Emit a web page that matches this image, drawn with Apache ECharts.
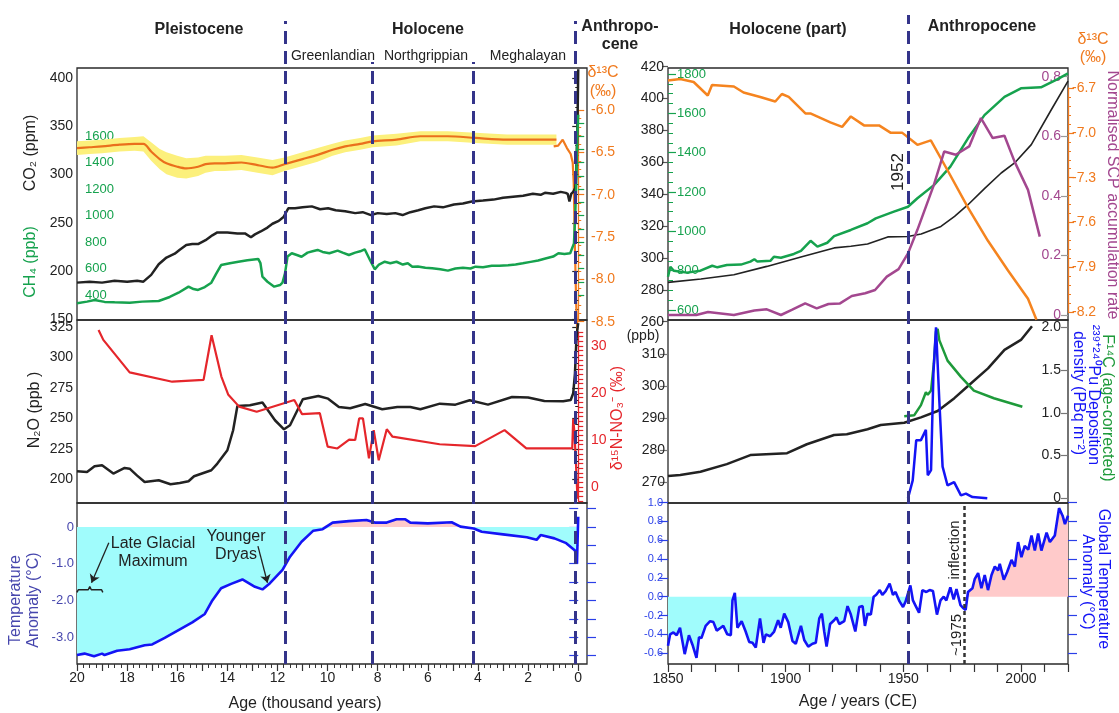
<!DOCTYPE html>
<html><head><meta charset="utf-8">
<script src="https://cdn.jsdelivr.net/npm/echarts@6/dist/echarts.min.js"></script>
<style>html,body{margin:0;padding:0;background:#fff}#c{width:1119px;height:713px}</style>
</head><body><div id="c"></div>
<script>
// ===================== DATA =====================
// Left column: age in thousand years before present
const co2LAge = [20,19.5,19.0,18.5,18.0, 17.6,17.35,17.04,16.74,16.43, 16.1,15.9,15.64,15.4,15.17, 14.87,14.6,14.4,14.0,13.6, 13.3,13.06,12.9,12.67,12.4, 12.2,11.95,11.76,11.57,11.3, 11.0,10.63,10.3,9.98,9.68, 9.3,8.9,8.6,8.27,8.0, 7.64,7.3,7.01,6.7,6.38, 6.1,5.75,5.4,4.96,4.6, 4.25,3.8,3.38,3.0,2.6, 2.2,1.81,1.5,1.33,1.0, 0.7,0.5,0.42,0.35,0.28, 0.2,0.12,0.08,0.05,0.02, 0.0];
const co2LVal = [188,189,188,190,189, 190,189,196,207,214, 218,222,227,228,228, 232,237,240,240,239, 239,235,238,241,245, 249,252,256,265,265, 266,267,264,265,263, 262,260,261,258,260, 259,260,258,261,263, 265,267,266,269,270, 272,273,274,276,277, 278,280,279,281,280, 282,281,280,272,280, 282,286,300,330,370, 409];

const ch4LAge = [20,19.6,19.3,18.9,18.5, 17.9,17.4,16.74,16.3,15.95, 15.55,15.35,15.17,14.9,14.64, 14.45,14.25,13.9,13.56,13.2, 12.77,12.68,12.6,12.4,12.13, 11.9,11.8,11.7,11.6,11.43, 11.2,11.04,10.8,10.6,10.4, 10.2,9.93,9.6,9.4,9.15, 8.9,8.7,8.52,8.3,8.12, 7.95,7.72,7.5,7.25,7.0, 6.8,6.62,6.4,6.1,5.83, 5.5,5.2,4.9,4.6,4.3, 4.1,3.8,3.45,3.15,2.8, 2.5,2.21,1.9,1.6,1.27, 1.0,0.79,0.55,0.32,0.26, 0.17,0.12,0.08,0.04,0.0];
const ch4LVal = [337,350,362,348,345, 342,350,355,385,417, 463,445,438,460,493, 560,626,640,651,662, 672,640,538,500,463, 475,493,563,690,715, 700,689,720,730,740, 725,715,735,720,702, 720,730,745,660,594, 630,651,640,651,630, 640,614,615,605,601, 595,584,600,605,600, 614,610,620,621,625, 630,639,650,660,677, 690,715,710,715,727, 790,1000,1243,1600,1760];

const d13cIceAge = [20,19.5,19,18.3,17.7, 17.35,17.04,16.7,16.43,16.0, 15.64,15.17,14.87,14.5,14.1, 13.44,12.8,12.2,11.72,11.0, 10.4,9.8,9.3,8.7,8.2, 7.25,6.3,5.2,4.1,2.84, 1.9,0.87];
const d13cIceVal = [-6.45,-6.44,-6.43,-6.41,-6.40, -6.40,-6.49,-6.58,-6.63,-6.67, -6.69,-6.67,-6.64,-6.63,-6.63, -6.62,-6.65,-6.68,-6.64,-6.58, -6.53,-6.47,-6.43,-6.40,-6.37, -6.35,-6.31,-6.31,-6.33,-6.35, -6.35,-6.35];
const d13cIceErr = [0.08,0.08,0.08,0.08,0.08, 0.09,0.11,0.12,0.13,0.13, 0.12,0.11,0.10,0.09,0.09, 0.09,0.09,0.09,0.08,0.08, 0.08,0.07,0.07,0.07,0.07, 0.07,0.06,0.06,0.06,0.06, 0.06,0.06];
const d13cFirnAge = [0.98,0.8,0.62,0.45,0.3,0.22,0.18,0.13,0.08,0.04];
const d13cFirnVal = [-6.43,-6.42,-6.35,-6.45,-6.52,-6.62,-6.86,-7.65,-8.3,-8.6];

const n2oLAge = [20,19.6,19.3,19.0,18.55, 18.1,17.9,17.6,17.3,16.74, 16.27,15.9,15.55,15.33,14.64, 14.4,14.0,13.77,13.6,13.1, 12.6,12.1,11.74,11.5,10.99, 10.37,9.98,9.55,9.1,8.5, 7.82,7.22,6.7,6.3,5.52, 4.9,4.33,3.6,2.64,2.0, 1.35,0.6,0.3,0.2,0.13, 0.08,0.04,0.0];
const n2oLVal = [206.6,206,210.7,211.5,204.7, 209.3,208.7,203,197.8,199.2, 195.9,197,198.4,202.5,207.4, 212.9,223.8,240.2,260.1,260.7, 262.9,248.4,241,244.3,265.6, 268.3,266.1,259.3,258.2,261.7, 257.4,259.3,259.3,257.4,262, 261.2,264.8,261.2,267.5,267, 264.2,264,265,270.5,286.9, 311.5,322,328];

const d15nAge = [19.14,18.95,17.9,16.2,14.95, 14.63,14.24,13.97,13.53,12.83, 11.33,11.02,10.31,10.0,9.61, 9.14,8.9,8.74,8.59,8.35, 8.16,7.96,7.64,7.41,5.53, 4.11,2.94,2.07,0.24,0.2, 0.15,0.09,0.03];
const d15nVal = [33.4,31.3,24.4,22.4,22.8, 32.3,23.5,19.7,17.1,16.0, 18.5,15.5,15.7,8.6,8.2, 10.1,10.0,14.6,14.6,6.1, 12.1,5.7,12.3,10.7,9.1, 8.7,12.1,8.2,8.2,14.5, 11.5,5.0,-2.5];

const tempLAge = [20,19.7,19.32,19.0,18.9, 18.4,17.9,17.3,17.0,16.5, 15.95,15.4,14.9,14.6,14.25, 13.85,13.4,12.9,12.6,12.3, 11.8,11.5,11.04,10.57,10.2, 9.8,9.15,8.45,8.12,7.64, 7.25,6.9,6.7,6.0,5.05, 4.7,4.17,3.85,3.0,2.05, 1.66,1.5,0.95,0.48,0.13, 0.05,0.0];
const tempLVal = [-3.49,-3.45,-3.52,-3.45,-3.49, -3.37,-3.33,-3.22,-3.2,-3.02, -2.81,-2.6,-2.37,-2.0,-1.67, -1.55,-1.43,-1.63,-1.70,-1.53, -1.17,-0.81,-0.40,-0.10,-0.06, 0.12,0.16,0.19,0.12,0.12, 0.21,0.21,0.12,0.10,0.13, 0.01,-0.04,-0.13,-0.20,-0.28, -0.35,-0.22,-0.31,-0.44,-0.64, -0.99,0.28];

const boundaryAgesTall = [11.7, 0.1];     // Pleistocene/Holocene, Holocene/Anthropocene
const boundaryAgesShort = [8.2, 4.2];     // Greenlandian/Northgrippian, Northgrippian/Meghalayan
const lgmBrace = [[20,-1.78],[19.95,-1.71],[19.55,-1.71],[19.49,-1.62],[19.43,-1.71],[19.02,-1.71],[18.97,-1.78]];
const lgmArrow = [[18.73,-0.43],[19.42,-1.52]];
const ydArrow = [[12.78,-0.52],[12.4,-1.52]];

// Right column: calendar year CE
const co2RYear = [1850,1864,1878,1892,1906.5,1920.6,1927.7,1934.8,1943.4,1951.9,1957.6,1966,1971.8,1977.5,1984.5,1991.6,1997.3,2004.4,2012.9,2020];
const co2RVal = [284.7,286.8,289.5,294.7,300.6,306.3,307.3,308.8,313.2,313.5,315,319.8,326.1,333.4,343.5,353.3,359.6,371.1,393,411];

const ch4RYear = [1850,1851,1852.4,1858,1863.8, 1868.8,1871,1875,1881,1885, 1886.7,1888,1893.6,1895,1898, 1903.5,1906.5,1910.6,1913.5,1917.7, 1920.6,1927.7,1934.8,1938.3,1946, 1952,1956,1963,1970,1977.5, 1984.5,1993,2000,2008.5,2015.6, 2020];
const ch4RVal = [769,820,800,790,800, 825,817,829,831,846, 858,846,851,871,866, 885,901,952,922,942, 976,1007,1041,1066,1100, 1125,1168,1235,1329,1473, 1591,1684,1727,1732,1774, 1803];

const d13cRYear = [1850,1855.2,1860.9,1866.9,1868.7, 1878,1882.1,1889.2,1895.6,1898.4, 1901.3,1908.4,1910.5,1919,1924, 1927.7,1933.3,1939.7,1944.7,1949.6, 1956,1961.7,1968.8,1977.5,1985.9, 1994.5,2003,2006.6];
const d13cRVal = [-6.65,-6.64,-6.66,-6.75,-6.68, -6.69,-6.73,-6.76,-6.79,-6.74, -6.76,-6.87,-6.87,-6.93,-6.96, -6.89,-6.95,-6.95,-7.00,-7.00, -7.08,-7.05,-7.25,-7.50,-7.72, -7.92,-8.11,-8.25];

const scpYear = [1850,1855,1862,1867,1878, 1886.7,1892,1898,1902.6,1908.3, 1913.2,1918.2,1923.1,1928.1,1933.8, 1938,1943,1948,1952,1956, 1963,1967.4,1972.3,1978,1983, 1988,1993,1997.3,2003,2008];
const scpVal = [0.0,0.0,0.0,0.01,0.0, 0.015,0.019,0.0,0.017,0.039, 0.022,0.037,0.039,0.064,0.073, 0.084,0.129,0.154,0.207,0.286, 0.437,0.549,0.538,0.566,0.661, 0.594,0.602,0.515,0.42,0.263];

const n2oRYear = [1850,1855.2,1863.8,1875,1885,1900.6,1909,1920.6,1926,1934.8,1940.4,1950.4,1957.5,1964.6,1971.7,1977.5,1986,1993,2000,2004.7];
const n2oRVal = [271.9,272.2,273.2,275.6,278.4,279,281.8,284.7,284.9,286.5,287.8,288.5,290.2,292.2,296.2,300,305.5,311.3,314.4,318.7];

const f14cYear = [1950.4,1954.6,1957.5,1959.6,1960.4,1961.8,1963,1963.9,1964.6,1965.3,1968.8,1974.5,1980,1988.5,2000.6];
const f14cVal = [0.96,0.97,1.09,1.24,1.21,1.26,1.58,1.95,1.98,1.85,1.61,1.42,1.26,1.17,1.07];

const puYear = [1952,1954,1955.5,1957.5,1959.6,1960.4,1961.8,1962.8,1963.9,1965.3,1966.7,1968.8,1971.6,1974.5,1976.6,1979.4,1985.7];
const puVal = [0.0,0.21,0.68,0.68,0.8,0.27,0.33,1.46,2.0,1.15,0.37,0.15,0.19,0.035,0.055,0.015,0.0];

const tempRYear = [1850,1850.9,1852.3,1853.7,1855.1,1857.1,1858.9,1860.4,1862.1,1863.2,
  1864.2,1866,1867.9,1869.3,1870.7,1872.4,1873.5,1875.2,1876.7,1877.4,
  1878.4,1879.5,1881.3,1883,1884.5,1885.9,1887.3,1889.1,1890.6,1891.6,
  1893.4,1895.1,1896.8,1897.9,1899.4,1901.1,1902.9,1904.3,1906.5,1907.9,
  1909.6,1911.4,1912.8,1914.3,1915.4,1916.4,1917.4,1918.9,1920.6,1921.6,
  1922.8,1924.9,1926.3,1927.7,1928.4,1929.6,1931.3,1932.7,1933.7,1934.8,
  1936.2,1937.4,1938.5,1940,1941.1,1942.5,1944.2,1945.6,1946.7,1948.4,
  1949.9,1951,1953,1954.1,1955.3,1956.7,1958.1,1959.8,1961.2,1962.6,
  1963.3,1964.3,1965.8,1967.2,1968.3,1970,1971.4,1972.6,1974.3,1975.4,
  1976.5,1977.5,1979.4,1980.4,1981.8,1983.2,1984.6,1986,1987.5,1988.9,
  1990.3,1991,1992.7,1994.1,1996,1997.4,1998.8,2000.2,2001.6,2003.1,
  2004.5,2005.9,2007.3,2008.7,2010.9,2012.3,2014.4,2016.2,2017.7,2018.7,
  2020];
const tempRVal = [-0.52,-0.40,-0.38,-0.41,-0.33,-0.61,-0.41,-0.51,-0.65,-0.43,
  -0.44,-0.31,-0.26,-0.27,-0.36,-0.33,-0.31,-0.40,-0.41,-0.04,
  0.04,-0.33,-0.26,-0.37,-0.48,-0.49,-0.54,-0.23,-0.49,-0.40,
  -0.42,-0.37,-0.25,-0.33,-0.18,-0.27,-0.47,-0.50,-0.31,-0.46,
  -0.53,-0.50,-0.49,-0.23,-0.18,-0.37,-0.53,-0.29,-0.25,-0.22,
  -0.29,-0.26,-0.10,-0.19,-0.18,-0.37,-0.11,-0.10,-0.31,-0.18,
  -0.19,0.0,0.02,0.07,0.02,0.06,0.14,0.02,0.05,-0.05,
  -0.11,-0.05,0.12,-0.04,-0.10,-0.17,0.07,0.05,0.07,0.06,
  0.08,-0.19,-0.04,0.0,-0.04,0.10,-0.03,0.08,-0.09,-0.12,
  -0.14,0.05,0.09,0.19,0.25,0.09,0.23,0.07,0.23,0.32,
  0.28,0.35,0.18,0.26,0.39,0.32,0.58,0.42,0.54,0.50,
  0.65,0.49,0.67,0.49,0.68,0.58,0.65,0.94,0.86,0.77,
  0.86];
const coolFillEndYear = 1951;      // cyan fill period ends
const warmFillStartYear = 1975.4;  // pink fill period starts
const anthropoceneYear = 1952;
const inflectionYear = 1975.7;

// ===================== BUILD =====================
const FONT = '"Liberation Sans", Arial, Helvetica, sans-serif';
const zip = (xs, ys) => xs.map((x, i) => [x, ys[i]]);
const clean = v => (Math.abs(v) < 1e-9 ? 0 : v);
const grids = [], xAxes = [], yAxes = [], series = [];

const LCOL = {left: 77, width: 510};
const LXCOL = {left: 77, width: 501.2};
const RCOL = {left: 668, width: 400};
const LX = {min: -0.35, max: 20, inverse: true};
const RX = {min: 1850, max: 2020};

function grid(col, xcfg, top, height, frame, ys) {
  const gi = grids.length;
  grids.push({left: col.left, width: col.width, top: top, height: height, containLabel: false,
    outerBoundsMode: 'none', show: !!frame, borderColor: '#2a2a2a', borderWidth: frame ? 1.3 : 0,
    backgroundColor: 'transparent'});
  xAxes.push(Object.assign({type: 'value', gridIndex: gi, show: false}, xcfg));
  const y0 = yAxes.length;
  (ys || [{show: false, min: 0, max: 1}]).forEach(y => yAxes.push(Object.assign({type: 'value', gridIndex: gi}, y)));
  return {x: gi, y: y0};
}
function yAx(o) {
  return {
    show: true, position: o.pos, min: o.min, max: o.max, interval: o.interval,
    axisLine: {show: !!o.lineColor, lineStyle: {color: o.lineColor || '#000', width: 1.3}},
    axisTick: {show: true, inside: !!o.inside, length: o.tickLen || 6, lineStyle: {color: o.tickColor || o.color, width: 1.2}},
    minorTick: o.minor ? {show: true, splitNumber: o.minor, length: o.minorLen || 3, lineStyle: {color: o.tickColor || o.color, width: 1}} : {show: false},
    axisLabel: {show: o.labels !== false, inside: !!o.inside, color: o.color, fontSize: o.fontSize || 14,
      fontFamily: FONT, margin: o.margin || 4, formatter: o.fmt || (v => String(clean(v))),
      showMinLabel: true, showMaxLabel: true, hideOverlap: false},
    splitLine: {show: false}, minorSplitLine: {show: false}
  };
}
function line(ax, data, color, width, extra, yi) {
  series.push(Object.assign({type: 'line', xAxisIndex: ax.x, yAxisIndex: ax.y + (yi || 0), data: data,
    showSymbol: false, symbol: 'none', clip: false, silent: true, animation: false,
    lineStyle: {color: color, width: width}, z: 3}, extra || {}));
}
function area(ax, data, color) {
  line(ax, data, color, 0, {areaStyle: {color: color, opacity: 1}, lineStyle: {width: 0, color: color}, z: 1});
}
function vlines(ax, xs, style) {
  series.push({type: 'line', xAxisIndex: ax.x, yAxisIndex: ax.y, data: [], silent: true, z: 5,
    markLine: {silent: true, animation: false, symbol: ['none', 'none'], label: {show: false},
      lineStyle: style, data: xs.map(v => ({xAxis: v}))}});
}

const ORANGE = '#f07a1e', GREEN = '#16a24e', RED = '#e5262b', BLUE = '#1414f5', NAVY = '#34348a';
const TBLUE = '#2a3fe8', TNAME = '#4646ad', PURPLE = '#a3478f', BLACK = '#222';

// ---------- Left column ----------
const fL1 = grid(LCOL, LX, 68, 252, true);
const fL2 = grid(LCOL, LX, 320, 183, true);
const fL3 = grid(LCOL, LX, 503, 161, true);
const aCO2L = grid(LCOL, LX, 78, 241.3, false, [yAx({pos: 'left', min: 150, max: 400, interval: 50, minor: 5, color: BLACK})]);
const aCH4L = grid(LCOL, LX, 122.75, 172.25, false, [yAx({pos: 'left', min: 400, max: 1700, interval: 100, inside: true,
  color: GREEN, fontSize: 13, margin: 8, fmt: v => (v % 200 === 0 && v <= 1600) ? String(v) : ''})]);
const aD13L = grid(LCOL, LX, 110, 211.7, false, [yAx({pos: 'right', min: -8.5, max: -6.0, interval: 0.5, minor: 5,
  color: ORANGE, lineColor: ORANGE, fmt: v => clean(v).toFixed(1)})]);
const aN2OL = grid(LCOL, LX, 326.8, 152.5, false, [yAx({pos: 'left', min: 200, max: 325, interval: 25, minor: 5, color: BLACK})]);
const aD15 = grid(LCOL, LX, 331.9, 169.2, false, [yAx({pos: 'right', min: -3, max: 33, interval: 1, color: RED, lineColor: RED,
  tickLen: 5, fmt: v => (Math.round(v) % 10 === 0) ? String(Math.round(v)) : ''})]);
const aTL = grid(LCOL, LX, 508.65, 146.8, false, [
  yAx({pos: 'left', min: -3.5, max: 0.5, interval: 0.5, color: TNAME, tickColor: TBLUE, tickLen: 9, fontSize: 13, margin: 3,
    fmt: v => Math.abs(v - Math.round(v)) < 1e-6 ? (Math.round(v) === 0 ? '0' : v.toFixed(1)) : ''}),
  yAx({pos: 'right', min: -3.5, max: 0.5, interval: 0.5, tickColor: TBLUE, tickLen: 9, labels: false})
]);
grid(LXCOL, {show: true, min: 0, max: 20, inverse: true, interval: 1, position: 'bottom',
  axisLine: {show: false}, axisTick: {show: true, length: 7, lineStyle: {color: '#333', width: 1.2}},
  minorTick: {show: true, splitNumber: 4, length: 4, lineStyle: {color: '#333', width: 1}},
  axisLabel: {color: BLACK, fontSize: 14, fontFamily: FONT, margin: 7, showMinLabel: true, showMaxLabel: true,
    formatter: v => (Math.round(v) % 2 === 0) ? String(Math.round(v)) : ''},
  splitLine: {show: false}}, 503, 161, false);
const ovLA = grid(LCOL, LX, 21, 643, false);
const ovLB = grid(LCOL, LX, 62, 602, false);

// L1
series.push({type: 'custom', xAxisIndex: aD13L.x, yAxisIndex: aD13L.y, data: [[d13cIceAge[0], d13cIceVal[0]]],
  silent: true, clip: false, z: 1, animation: false,
  renderItem: (params, api) => {
    const up = d13cIceAge.map((a, i) => api.coord([a, d13cIceVal[i] + d13cIceErr[i]]));
    const lo = d13cIceAge.map((a, i) => api.coord([a, d13cIceVal[i] - d13cIceErr[i]])).reverse();
    return {type: 'polygon', shape: {points: up.concat(lo)}, style: {fill: '#fcf07c'}};
  }});
line(aD13L, zip(d13cIceAge, d13cIceVal), '#ea6f1c', 2.2, {smooth: 0.3});
line(aD13L, zip(d13cFirnAge, d13cFirnVal), ORANGE, 2.2);
line(aCO2L, zip(co2LAge, co2LVal), BLACK, 2.5);
line(aCH4L, zip(ch4LAge, ch4LVal), GREEN, 2.5);
// L2
line(aN2OL, zip(n2oLAge, n2oLVal), BLACK, 2.5);
line(aD15, zip(d15nAge, d15nVal), RED, 2.2);
// L3
area(aTL, zip(tempLAge, tempLVal.map(v => Math.min(v, 0))), '#a0fcfc');
area(aTL, zip(tempLAge, tempLVal.map(v => Math.max(v, 0))), '#ffcaca');
line(aTL, zip(tempLAge, tempLVal), BLUE, 2.6);
line(aTL, lgmBrace, BLACK, 1.5);
series.push({type: 'line', xAxisIndex: aTL.x, yAxisIndex: aTL.y, data: [], silent: true, z: 6,
  markLine: {silent: true, animation: false, symbol: ['none', 'arrow'], symbolSize: 8, label: {show: false},
    lineStyle: {color: BLACK, width: 1.3, type: 'solid'},
    data: [[{coord: lgmArrow[0]}, {coord: lgmArrow[1]}], [{coord: ydArrow[0]}, {coord: ydArrow[1]}]]}});
vlines(ovLA, boundaryAgesTall, {color: NAVY, width: 3, type: [13, 7]});
vlines(ovLB, boundaryAgesShort, {color: NAVY, width: 3, type: [13, 7]});

// ---------- Right column ----------
const fR1 = grid(RCOL, RX, 68, 252, true);
const fR2 = grid(RCOL, RX, 320, 183, true);
const fR3 = grid(RCOL, {show: true, min: 1850, max: 2020, interval: 10, position: 'bottom',
  axisLine: {show: false}, axisTick: {show: true, length: 8, lineStyle: {color: '#333', width: 1.2}},
  axisLabel: {color: BLACK, fontSize: 14, fontFamily: FONT, margin: 8, showMinLabel: true, showMaxLabel: true,
    formatter: v => (Math.round(v) % 50 === 0) ? String(Math.round(v)) : ''},
  splitLine: {show: false}}, 503, 161, true);
const aCO2R = grid(RCOL, RX, 66.7, 255, false, [yAx({pos: 'left', min: 260, max: 420, interval: 20, color: BLACK, tickColor: '#555'})]);
const aCH4R = grid(RCOL, RX, 74, 236, false, [yAx({pos: 'left', min: 600, max: 1800, interval: 200, minor: 4, inside: true,
  color: GREEN, tickLen: 8, minorLen: 5, fontSize: 13, margin: 9})]);
const aSCP = grid(RCOL, RX, 76.7, 238.3, false, [yAx({pos: 'right', min: 0, max: 0.8, interval: 0.2, inside: true,
  color: PURPLE, tickColor: '#999', tickLen: 7, margin: 7, fmt: v => clean(v) === 0 ? '0' : v.toFixed(1)})]);
const aD13R = grid(RCOL, RX, 88, 224.3, false, [yAx({pos: 'right', min: -8.2, max: -6.7, interval: 0.3, minor: 5,
  color: ORANGE, lineColor: ORANGE, fmt: v => clean(v).toFixed(1)})]);
const aN2OR = grid(RCOL, RX, 354, 128, false, [yAx({pos: 'left', min: 270, max: 310, interval: 10, color: BLACK, tickColor: '#777', tickLen: 8, margin: 3})]);
const aFR = grid(RCOL, RX, 327.3, 171, false, [yAx({pos: 'right', min: 0, max: 2, interval: 0.5, inside: true,
  color: BLACK, tickColor: '#777', tickLen: 7, margin: 7, fmt: v => clean(v) === 0 ? '0' : v.toFixed(1)})]);
const aTR = grid(RCOL, RX, 502.5, 150.7, false, [
  yAx({pos: 'left', min: -0.6, max: 1.0, interval: 0.2, color: TBLUE, tickColor: TBLUE, tickLen: 9, fontSize: 11, margin: 5,
    fmt: v => clean(v).toFixed(1)}),
  yAx({pos: 'right', min: -0.6, max: 1.0, interval: 0.2, tickColor: TBLUE, tickLen: 9, labels: false})
]);
const ovR = grid(RCOL, RX, 15, 649, false);

// R1
line(aCO2R, zip(co2RYear, co2RVal), BLACK, 1.6);
line(aCH4R, zip(ch4RYear, ch4RVal), GREEN, 2.5);
line(aD13R, zip(d13cRYear, d13cRVal), '#f5841f', 2.5);
line(aSCP, zip(scpYear, scpVal), PURPLE, 2.5);
// R2
line(aN2OR, zip(n2oRYear, n2oRVal), BLACK, 2.5);
line(aFR, zip(f14cYear, f14cVal), '#1e9a3a', 2.5);
line(aFR, zip(puYear, puVal), BLUE, 2.5);
// R3
const tempRPairs = zip(tempRYear, tempRVal);
area(aTR, tempRPairs.filter(p => p[0] <= coolFillEndYear).map(p => [p[0], Math.min(p[1], 0)]), '#a0fcfc');
area(aTR, tempRPairs.filter(p => p[0] >= warmFillStartYear).map(p => [p[0], Math.max(p[1], 0)]), '#ffcaca');
line(aTR, tempRPairs, BLUE, 2.6);
vlines(fR3, [inflectionYear], {color: '#333', width: 2.5, type: [4, 3]});
vlines(ovR, [anthropoceneYear], {color: NAVY, width: 3, type: [13, 7]});

// ---------- Texts ----------
const B16 = 'bold 16px ' + FONT, R16 = '16px ' + FONT, R14 = '14px ' + FONT, R15 = '15px ' + FONT;
const H = Math.PI / 2;
const labels = [
  ['Pleistocene', 199, 30, B16, BLACK, 0], ['Holocene', 428, 30, B16, BLACK, 0],
  ['Anthropo-', 620, 27, B16, BLACK, 0], ['cene', 620, 45, B16, BLACK, 0],
  ['Greenlandian', 333, 56, R14, BLACK, 0], ['Northgrippian', 426, 56, R14, BLACK, 0], ['Meghalayan', 528, 56, R14, BLACK, 0],
  ['Holocene (part)', 788, 30, B16, BLACK, 0], ['Anthropocene', 982, 27, B16, BLACK, 0],
  ['δ¹³C', 603, 73, R16, ORANGE, 0], ['(‰)', 603, 92, R16, ORANGE, 0],
  ['δ¹³C', 1093, 40, R16, ORANGE, 0], ['(‰)', 1093, 58, R16, ORANGE, 0],
  ['(ppb)', 643, 336, R14, BLACK, 0],
  ['Late Glacial', 153, 544, R16, BLACK, 0], ['Maximum', 153, 562, R16, BLACK, 0],
  ['Younger', 236, 537, R16, BLACK, 0], ['Dryas', 236, 555, R16, BLACK, 0],
  ['Age (thousand years)', 305, 704, R16, BLACK, 0], ['Age / years (CE)', 858, 702, R16, BLACK, 0],
  ['CO₂ (ppm)', 31, 153, R16, BLACK, H], ['CH₄ (ppb)', 31, 262, R16, GREEN, H],
  ['N₂O (ppb )', 35, 410, R16, BLACK, H],
  ['Temperature', 16, 600, R16, TNAME, H], ['Anomaly (°C)', 34, 600, R16, TNAME, H],
  ['δ¹⁵N-NO₃⁻ (‰)', 618, 418, R16, RED, H],
  ['1952', 898, 172, '17px ' + FONT, BLACK, H],
  ['inflection', 955, 550, R15, BLACK, H], ['~1975', 957, 635, R15, BLACK, H],
  ['Normalised SCP accumulation rate', 1112, 195, R16, PURPLE, -H],
  ['F¹⁴C (age-corrected)', 1107, 408, R16, '#1e9a3a', -H],
  ['²³⁹⁺²⁴⁰Pu Deposition', 1093, 395, R16, BLUE, -H],
  ['density (PBq m⁻²)', 1078, 393, R16, BLUE, -H],
  ['Global Temperature', 1103, 579, R16, BLUE, -H], ['Anomaly (°C)', 1087, 582, R16, BLUE, -H]
];
const graphic = labels.map(t => ({type: 'text', x: t[1], y: t[2], rotation: t[5], z: 20, silent: true,
  style: {text: t[0], font: t[3], fill: t[4], align: 'center', verticalAlign: 'middle',
    textAlign: 'center', textVerticalAlign: 'middle'}}));

const chart = echarts.init(document.getElementById('c'), null, {renderer: 'canvas'});
chart.setOption({animation: false, backgroundColor: '#fff', grid: grids, xAxis: xAxes, yAxis: yAxes,
  series: series, graphic: {elements: graphic}});
</script></body></html>
